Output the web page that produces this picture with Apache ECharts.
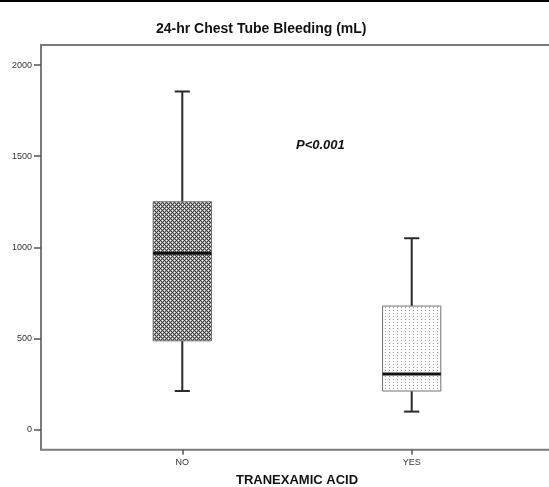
<!DOCTYPE html>
<html>
<head>
<meta charset="utf-8">
<script src="https://cdn.jsdelivr.net/npm/echarts@6/dist/echarts.min.js"></script>
<style>
html,body{margin:0;padding:0;background:#fff;}
#wrap{position:relative;width:549px;height:487px;}
#chart{position:absolute;left:0;top:0;width:549px;height:487px;}
#topline{position:absolute;left:0;top:0;width:549px;height:2px;background:#000;}
</style>
</head>
<body>
<div id="wrap"><div id="chart"></div><div id="topline"></div></div>
<script>
// ---- data ----
var categories = ['NO', 'YES'];
var whiskerMin = [212, 99];
var q1 = [487, 212];
var medians = [968, 305];
var q3 = [1250, 678];
var whiskerMax = [1855, 1050];
var yTicks = [0, 500, 1000, 1500, 2000];
var titleText = '24-hr Chest Tube Bleeding (mL)';
var xTitle = 'TRANEXAMIC ACID';
var pText = 'P<0.001';

// ---- fill patterns ----
function makeCross() {
  var c = document.createElement('canvas'); c.width = 4; c.height = 4;
  var g = c.getContext('2d');
  g.fillStyle = '#a8a8a8'; g.fillRect(0, 0, 4, 4);
  g.fillStyle = '#3a3a3a';
  [[0,0],[1,1],[2,2],[3,3],[3,1],[1,3]].forEach(function (p) { g.fillRect(p[0], p[1], 1, 1); });
  g.fillStyle = '#ffffff';
  [[0,2],[2,0]].forEach(function (p) { g.fillRect(p[0], p[1], 1, 1); });
  return c;
}
function makeDots() {
  var c = document.createElement('canvas'); c.width = 4; c.height = 3;
  var g = c.getContext('2d');
  g.fillStyle = '#ffffff'; g.fillRect(0, 0, 4, 3);
  g.fillStyle = '#9a9a9a'; g.fillRect(1, 1, 1, 1);
  return c;
}
var patterns = [
  { image: makeCross(), repeat: 'repeat' },
  { image: makeDots(), repeat: 'repeat' }
];

var seriesData = categories.map(function (c, i) {
  return [i, whiskerMin[i], q1[i], medians[i], q3[i], whiskerMax[i]];
});

var font = '"Liberation Sans", Arial, sans-serif';
var yMin = -110, yMax = 2110;

var chart = echarts.init(document.getElementById('chart'), null, { renderer: 'canvas' });
chart.setOption({
  backgroundColor: '#ffffff',
  animation: false,
  title: [
    { text: titleText, left: 151, top: 17,
      textStyle: { fontFamily: font, fontSize: 14, fontWeight: 'bold', color: '#111' } },
    { text: pText, left: 291, top: 134,
      textStyle: { fontFamily: font, fontSize: 13, fontWeight: 'bold', fontStyle: 'italic', color: '#111' } }
  ],
  grid: [
    { left: 41, top: 45, width: 620, bottom: 37.3, show: true, containLabel: false, outerBoundsMode: 'none',
      borderColor: '#7a7a7a', borderWidth: 2, backgroundColor: 'transparent' },
    { left: 67.6, top: 45, width: 458.8, bottom: 37.3, containLabel: false, outerBoundsMode: 'none' }
  ],
  xAxis: [
    { gridIndex: 0, type: 'value', min: 0, max: 1, show: false },
    { gridIndex: 1, type: 'category', data: categories, position: 'bottom',
      axisLine: { show: false, onZero: false },
      axisTick: { show: true, alignWithLabel: true, length: 5, lineStyle: { color: '#555', width: 1.5 } },
      axisLabel: { fontFamily: font, fontSize: 9, color: '#333', margin: 8 },
      name: xTitle, nameLocation: 'middle', nameGap: 24,
      nameTextStyle: { fontFamily: font, fontSize: 13, fontWeight: 'bold', color: '#111' } }
  ],
  yAxis: [
    { gridIndex: 0, type: 'value', min: yMin, max: yMax,
      axisLine: { show: false },
      splitLine: { show: false },
      axisTick: { show: true, length: 7, customValues: yTicks, lineStyle: { color: '#555', width: 1.5 } },
      axisLabel: { fontFamily: font, fontSize: 9, color: '#333', margin: 9, customValues: yTicks,
        formatter: function (v) { return String(v); } } },
    { gridIndex: 1, type: 'value', min: yMin, max: yMax, show: false }
  ],
  series: [{
    type: 'custom',
    xAxisIndex: 1, yAxisIndex: 1,
    data: seriesData,
    encode: { x: 0, y: [1, 2, 3, 4, 5] },
    renderItem: function (params, api) {
      var i = api.value(0);
      var pMin = api.coord([i, api.value(1)]);
      var pQ1 = api.coord([i, api.value(2)]);
      var pMed = api.coord([i, api.value(3)]);
      var pQ3 = api.coord([i, api.value(4)]);
      var pMax = api.coord([i, api.value(5)]);
      var band = api.size([1, 0])[0];
      var bw = band * 0.254;
      var cw = band * 0.066;
      var cx = pMed[0];
      var wStyle = { stroke: '#2a2a2a', lineWidth: 2 };
      return {
        type: 'group',
        children: [
          { type: 'line', shape: { x1: cx, y1: pMin[1], x2: cx, y2: pQ1[1] }, style: wStyle },
          { type: 'line', shape: { x1: cx, y1: pQ3[1], x2: cx, y2: pMax[1] }, style: wStyle },
          { type: 'line', shape: { x1: cx - cw / 2, y1: pMin[1], x2: cx + cw / 2, y2: pMin[1] }, style: wStyle },
          { type: 'line', shape: { x1: cx - cw / 2, y1: pMax[1], x2: cx + cw / 2, y2: pMax[1] }, style: wStyle },
          { type: 'rect', shape: { x: cx - bw / 2, y: pQ3[1], width: bw, height: pQ1[1] - pQ3[1] },
            style: { fill: patterns[params.dataIndex], stroke: '#707070', lineWidth: 1 } },
          { type: 'line', shape: { x1: cx - bw / 2, y1: pMed[1], x2: cx + bw / 2, y2: pMed[1] },
            style: { stroke: '#111', lineWidth: 3 } }
        ]
      };
    }
  }]
});
</script>
</body>
</html>
